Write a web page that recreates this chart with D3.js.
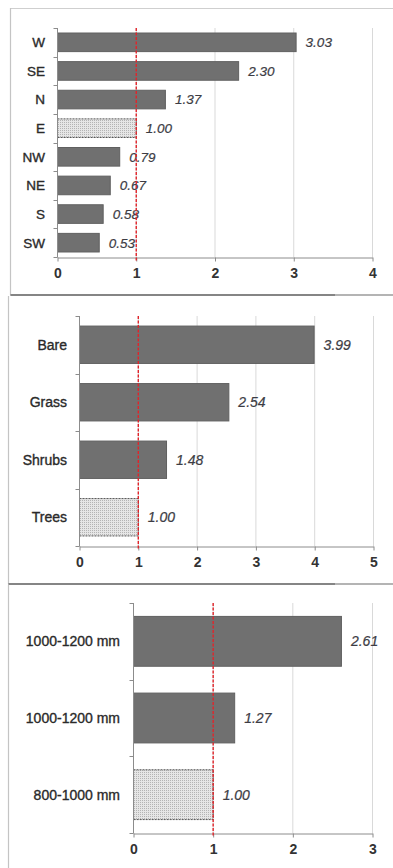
<!DOCTYPE html>
<html>
<head>
<meta charset="utf-8">
<script src="https://cdn.jsdelivr.net/npm/d3@7"></script>
<style>
  html, body { margin: 0; padding: 0; background: #fff; }
  svg { display: block; }
</style>
</head>
<body>
<svg id="chart" width="393" height="868"></svg>
<script>
// Relative ratios by aspect, land cover and rainfall class (reference class = 1.00)
const aspectCats = ["W", "SE", "N", "E", "NW", "NE", "S", "SW"];
const aspectVals = [3.03, 2.30, 1.37, 1.00, 0.79, 0.67, 0.58, 0.53];
const aspectTicks = [0, 1, 2, 3, 4];
const aspectRef = "E";

const coverCats = ["Bare", "Grass", "Shrubs", "Trees"];
const coverVals = [3.99, 2.54, 1.48, 1.00];
const coverTicks = [0, 1, 2, 3, 4, 5];
const coverRef = "Trees";

const rainCats = ["1000-1200 mm", "1000-1200 mm", "800-1000 mm"];
const rainVals = [2.61, 1.27, 1.00];
const rainTicks = [0, 1, 2, 3];
const rainRef = "800-1000 mm";

const refLine = 1;

const svg = d3.select("#chart");
const W = 393;

// dotted fill for the reference bars
const defs = svg.append("defs");
const pat = defs.append("pattern")
  .attr("id", "dots").attr("patternUnits", "userSpaceOnUse")
  .attr("width", 2).attr("height", 2);
pat.append("rect").attr("width", 2).attr("height", 2).attr("fill", "#e6e6e6");
pat.append("rect").attr("width", 1).attr("height", 1).attr("fill", "#b4b4b4");

// panel frames
function frame(top, bottom, left, sepY) {
  svg.append("line").attr("x1", left).attr("x2", left).attr("y1", top).attr("y2", bottom)
    .attr("stroke", "#c4c4c4").attr("stroke-width", 1.2);
  if (sepY != null) {
    svg.append("rect").attr("x", left).attr("y", sepY).attr("width", W - left).attr("height", 2)
      .attr("fill", "#b4b4b4");
    svg.append("rect").attr("x", left).attr("y", sepY).attr("width", 335 - left).attr("height", 2)
      .attr("fill", "#858585");
  }
}
svg.append("line").attr("x1", 10).attr("x2", W).attr("y1", 8.5).attr("y2", 8.5)
  .attr("stroke", "#cfcfcf").attr("stroke-width", 1);
frame(8, 295, 10.5, 294);
frame(296, 584, 8.5, 583);
frame(585, 868, 8.5, null);

function panel(cfg) {
  const { cats, vals, ticks, refCat, x0, x1, yTop, yBot, labelGap, fontSize, tickFont } = cfg;
  const idx = cats.map((d, i) => i);
  const x = d3.scaleLinear().domain([ticks[0], ticks[ticks.length - 1]]).range([x0, x1]);
  const y = d3.scaleBand().domain(idx).range([yTop, yBot]).paddingInner(0.35).paddingOuter(0.175);
  const step = y.step();
  const g = svg.append("g");

  // vertical gridlines
  g.selectAll(".grid").data(ticks.filter(t => t > 0)).join("line")
    .attr("x1", d => x(d) + 0.5).attr("x2", d => x(d) + 0.5)
    .attr("y1", yTop).attr("y2", yBot)
    .attr("stroke", "#d9d9d9").attr("stroke-width", 1);

  // bars
  g.selectAll(".bar").data(idx).join("rect")
    .attr("x", x(0) + 0.5)
    .attr("y", i => y(i))
    .attr("width", i => x(vals[i]) - x(0))
    .attr("height", y.bandwidth())
    .attr("fill", i => cats[i] === refCat ? "url(#dots)" : "#707070")
    .attr("stroke", i => cats[i] === refCat ? "#555" : "#606060")
    .attr("stroke-width", 1)
    .attr("stroke-dasharray", i => cats[i] === refCat ? "2,1" : null);

  // x axis
  const xAxis = d3.axisBottom(x).tickValues(ticks).tickFormat(d3.format("d"))
    .tickSizeInner(4).tickSizeOuter(0).tickPadding(7);
  const ax = g.append("g").attr("transform", `translate(0.5,${yBot + 0.5})`).call(xAxis);
  ax.select(".domain").attr("stroke", "#8c8c8c");
  ax.selectAll(".tick line").attr("stroke", "#8c8c8c");
  ax.selectAll(".tick text")
    .attr("font-family", "Liberation Sans, Arial, sans-serif")
    .attr("font-size", tickFont).attr("font-weight", "bold").attr("fill", "#333");

  // y axis with ticks at category boundaries
  g.append("line").attr("x1", x(0) + 0.5).attr("x2", x(0) + 0.5)
    .attr("y1", yTop).attr("y2", yBot + 0.5).attr("stroke", "#8c8c8c");
  const bounds = d3.range(cats.length + 1).map(k => yTop + k * step);
  g.selectAll(".ytick").data(bounds).join("line")
    .attr("x1", x(0) - 3.5).attr("x2", x(0) + 0.5)
    .attr("y1", d => Math.round(d) + 0.5).attr("y2", d => Math.round(d) + 0.5)
    .attr("stroke", "#8c8c8c");

  // category labels
  g.selectAll(".cat").data(idx).join("text")
    .attr("x", x(0) - labelGap)
    .attr("y", i => y(i) + y.bandwidth() / 2)
    .attr("dy", "0.36em")
    .attr("text-anchor", "end")
    .attr("font-family", "Liberation Sans, Arial, sans-serif")
    .attr("font-size", fontSize)
    .attr("fill", "#2a2a2a")
    .attr("stroke", "#2a2a2a").attr("stroke-width", 0.35)
    .text(i => cats[i]);

  // value labels
  g.selectAll(".val").data(idx).join("text")
    .attr("x", i => x(vals[i]) + 10)
    .attr("y", i => y(i) + y.bandwidth() / 2)
    .attr("dy", "0.36em")
    .attr("font-family", "Liberation Sans, Arial, sans-serif")
    .attr("font-size", fontSize)
    .attr("font-style", "italic")
    .attr("fill", "#3c3c44")
    .attr("stroke", "#3c3c44").attr("stroke-width", 0.2)
    .text(i => vals[i].toFixed(2));

  // reference line at ratio 1
  g.append("line")
    .attr("x1", x(refLine) + 0.5).attr("x2", x(refLine) + 0.5)
    .attr("y1", yTop).attr("y2", yBot + 4)
    .attr("stroke", "#e2242a").attr("stroke-width", 1.4)
    .attr("stroke-dasharray", "3,1.5");
}

panel({ cats: aspectCats, vals: aspectVals, ticks: aspectTicks, refCat: aspectRef,
  x0: 57, x1: 372, yTop: 28, yBot: 257, labelGap: 12, fontSize: 13.5, tickFont: 14 });
panel({ cats: coverCats, vals: coverVals, ticks: coverTicks, refCat: coverRef,
  x0: 79, x1: 373, yTop: 316, yBot: 546, labelGap: 12, fontSize: 14, tickFont: 14 });
panel({ cats: rainCats, vals: rainVals, ticks: rainTicks, refCat: rainRef,
  x0: 133, x1: 372, yTop: 603, yBot: 833, labelGap: 13, fontSize: 14, tickFont: 14 });
</script>
</body>
</html>
